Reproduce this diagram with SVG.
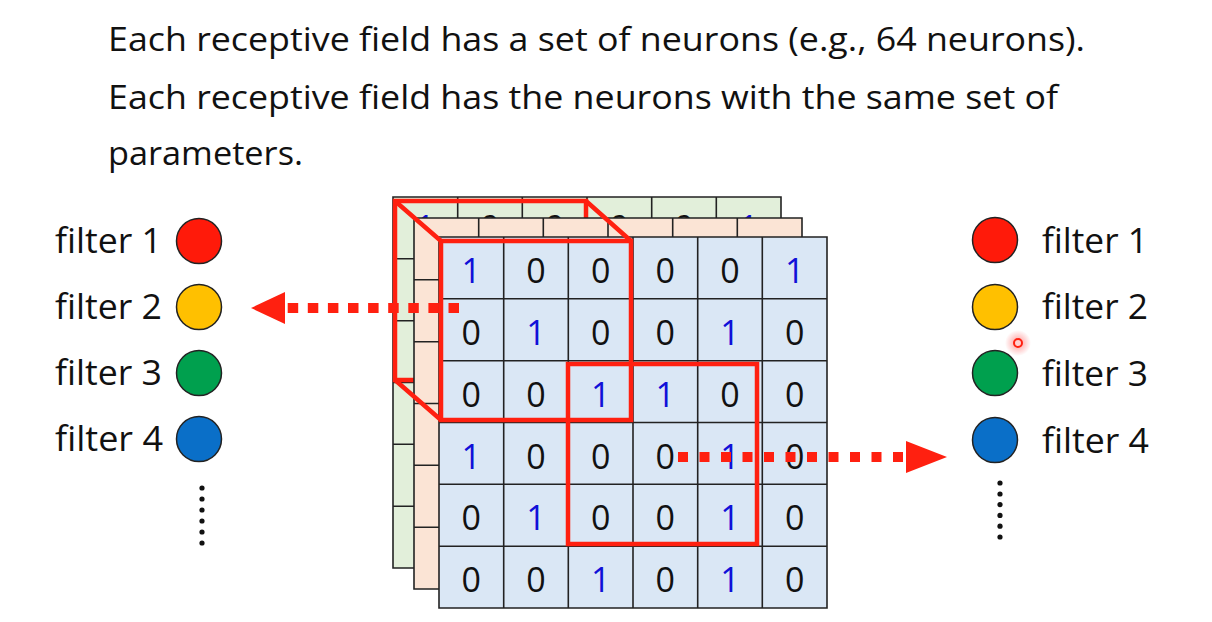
<svg xmlns="http://www.w3.org/2000/svg" width="1212" height="622" viewBox="0 0 1212 622">
<defs>
<style>
.hdr{font-family:"Open Sans","Liberation Sans",sans-serif;font-size:33.5px;fill:#111}
.lbl{font-family:"Open Sans","Liberation Sans",sans-serif;font-size:35.5px;fill:#111}
.d{font-family:"Open Sans","Liberation Sans",sans-serif;font-size:34px;text-anchor:middle;fill:#111}
.b{fill:#1010D8}
.grid{stroke:#222;stroke-width:1.6;fill:none}
.rf{fill:none;stroke:#FF2010;stroke-width:4.5;stroke-linejoin:miter}
.dot{fill:#111}
.fc{stroke:#222;stroke-width:1.5}
.dash{fill:none;stroke:#FF2010;stroke-width:10}
.head{fill:#FF2010}
</style>
<radialGradient id="glow">
<stop offset="0" stop-color="#ff3030" stop-opacity="0.5"/>
<stop offset="1" stop-color="#ff3030" stop-opacity="0"/>
</radialGradient>
</defs>
<rect width="1212" height="622" fill="#ffffff"/>

<g id="header">
<text class="hdr" x="108" y="51" textLength="977" lengthAdjust="spacingAndGlyphs">Each receptive field has a set of neurons (e.g., 64 neurons).</text>
<text class="hdr" x="108" y="109" textLength="950" lengthAdjust="spacingAndGlyphs">Each receptive field has the neurons with the same set of</text>
<text class="hdr" x="108" y="165" textLength="195" lengthAdjust="spacingAndGlyphs">parameters.</text>
</g>

<g id="layer-back">
<rect x="393" y="197" width="388" height="371" fill="#E2EFDA"/>
<text class="d b" x="425.3" y="240">1</text>
<text class="d" x="490" y="240">0</text>
<text class="d" x="554.7" y="240">0</text>
<text class="d" x="619.3" y="240">0</text>
<text class="d" x="684" y="240">0</text>
<text class="d b" x="748.7" y="240">1</text>
<path class="grid" d="M393 197H781V568H393Z M457.7 197V568 M522.3 197V568 M587 197V568 M651.7 197V568 M716.3 197V568 M393 258.8H781 M393 320.7H781 M393 382.5H781 M393 444.3H781 M393 506.2H781"/>
</g>

<g id="receptive-field-back">
<rect class="rf" x="395" y="201" width="191" height="179"/>
</g>

<g id="layer-middle">
<rect x="414" y="218" width="388" height="371" fill="#FBE4D5"/>
<path class="grid" d="M414 218H802V589H414Z M478.7 218V589 M543.3 218V589 M608 218V589 M672.7 218V589 M737.3 218V589 M414 279.8H802 M414 341.7H802 M414 403.5H802 M414 465.3H802 M414 527.2H802"/>
</g>

<g id="layer-front">
<rect x="439" y="237" width="388" height="371" fill="#DAE7F5"/>
<path class="grid" d="M439 237H827V608H439Z M503.7 237V608 M568.3 237V608 M633 237V608 M697.7 237V608 M762.3 237V608 M439 298.8H827 M439 360.7H827 M439 422.5H827 M439 484.3H827 M439 546.2H827"/>
<g id="values">
<text class="d b" x="471.3" y="283">1</text><text class="d" x="536" y="283">0</text><text class="d" x="600.7" y="283">0</text><text class="d" x="665.3" y="283">0</text><text class="d" x="730" y="283">0</text><text class="d b" x="794.7" y="283">1</text>
<text class="d" x="471.3" y="345">0</text><text class="d b" x="536" y="345">1</text><text class="d" x="600.7" y="345">0</text><text class="d" x="665.3" y="345">0</text><text class="d b" x="730" y="345">1</text><text class="d" x="794.7" y="345">0</text>
<text class="d" x="471.3" y="407">0</text><text class="d" x="536" y="407">0</text><text class="d b" x="600.7" y="407">1</text><text class="d b" x="665.3" y="407">1</text><text class="d" x="730" y="407">0</text><text class="d" x="794.7" y="407">0</text>
<text class="d b" x="471.3" y="469">1</text><text class="d" x="536" y="469">0</text><text class="d" x="600.7" y="469">0</text><text class="d" x="665.3" y="469">0</text><text class="d b" x="730" y="469">1</text><text class="d" x="794.7" y="469">0</text>
<text class="d" x="471.3" y="530">0</text><text class="d b" x="536" y="530">1</text><text class="d" x="600.7" y="530">0</text><text class="d" x="665.3" y="530">0</text><text class="d b" x="730" y="530">1</text><text class="d" x="794.7" y="530">0</text>
<text class="d" x="471.3" y="592">0</text><text class="d" x="536" y="592">0</text><text class="d b" x="600.7" y="592">1</text><text class="d" x="665.3" y="592">0</text><text class="d b" x="730" y="592">1</text><text class="d" x="794.7" y="592">0</text>
</g>
</g>

<g id="receptive-field-1">
<rect class="rf" x="441" y="241" width="190" height="179"/>
<path class="rf" d="M395 201L441 241 M586 201L631 241 M395 380L441 420"/>
</g>

<g id="receptive-field-2">
<rect class="rf" x="568" y="364" width="189" height="180"/>
</g>

<g id="filters-left">
<g id="fl1"><text class="lbl" x="55" y="253" textLength="107" lengthAdjust="spacingAndGlyphs">filter 1</text><circle class="fc" cx="199" cy="241" r="22.5" fill="#FF1A0A"/></g>
<g id="fl2"><text class="lbl" x="55" y="319" textLength="107" lengthAdjust="spacingAndGlyphs">filter 2</text><circle class="fc" cx="199" cy="307" r="22.5" fill="#FFC000"/></g>
<g id="fl3"><text class="lbl" x="55" y="385" textLength="107" lengthAdjust="spacingAndGlyphs">filter 3</text><circle class="fc" cx="199" cy="373" r="22.5" fill="#00A04E"/></g>
<g id="fl4"><text class="lbl" x="55" y="451" textLength="108" lengthAdjust="spacingAndGlyphs">filter 4</text><circle class="fc" cx="199" cy="439" r="22.5" fill="#0A6FC8"/></g>
<g id="fl-more">
<circle class="dot" cx="202" cy="488" r="2.6"/><circle class="dot" cx="202" cy="499" r="2.6"/><circle class="dot" cx="202" cy="510" r="2.6"/><circle class="dot" cx="202" cy="521" r="2.6"/><circle class="dot" cx="202" cy="532" r="2.6"/><circle class="dot" cx="202" cy="543" r="2.6"/>
</g>
</g>

<g id="filters-right">
<g id="fr1"><circle class="fc" cx="995" cy="240" r="22.5" fill="#FF1A0A"/><text class="lbl" x="1042" y="253" textLength="106" lengthAdjust="spacingAndGlyphs">filter 1</text></g>
<g id="fr2"><circle class="fc" cx="995" cy="307" r="22.5" fill="#FFC000"/><text class="lbl" x="1042" y="319" textLength="106" lengthAdjust="spacingAndGlyphs">filter 2</text></g>
<g id="fr3"><circle class="fc" cx="995" cy="373" r="22.5" fill="#00A04E"/><text class="lbl" x="1042" y="386" textLength="106" lengthAdjust="spacingAndGlyphs">filter 3</text></g>
<g id="fr4"><circle class="fc" cx="995" cy="440" r="22.5" fill="#0A6FC8"/><text class="lbl" x="1042" y="453" textLength="107" lengthAdjust="spacingAndGlyphs">filter 4</text></g>
<g id="fr-more">
<circle class="dot" cx="1000" cy="483" r="2.6"/><circle class="dot" cx="1000" cy="494" r="2.6"/><circle class="dot" cx="1000" cy="504.6" r="2.6"/><circle class="dot" cx="1000" cy="515.4" r="2.6"/><circle class="dot" cx="1000" cy="526.2" r="2.6"/><circle class="dot" cx="1000" cy="537" r="2.6"/>
</g>
</g>

<g id="connectors">
<path class="dash" d="M459 308H284" stroke-dasharray="10.5 9.6"/>
<polygon class="head" points="251,308 285,292 285,324"/>
<path class="dash" d="M678 457H906" stroke-dasharray="10 11.5"/>
<polygon class="head" points="947,457 906,441 906,473"/>
</g>

<g id="pointer">
<circle cx="1018" cy="343" r="13" fill="url(#glow)"/>
<circle cx="1018" cy="343" r="4" fill="#ffd0d0" stroke="#FF2010" stroke-width="2"/>
</g>
</svg>
